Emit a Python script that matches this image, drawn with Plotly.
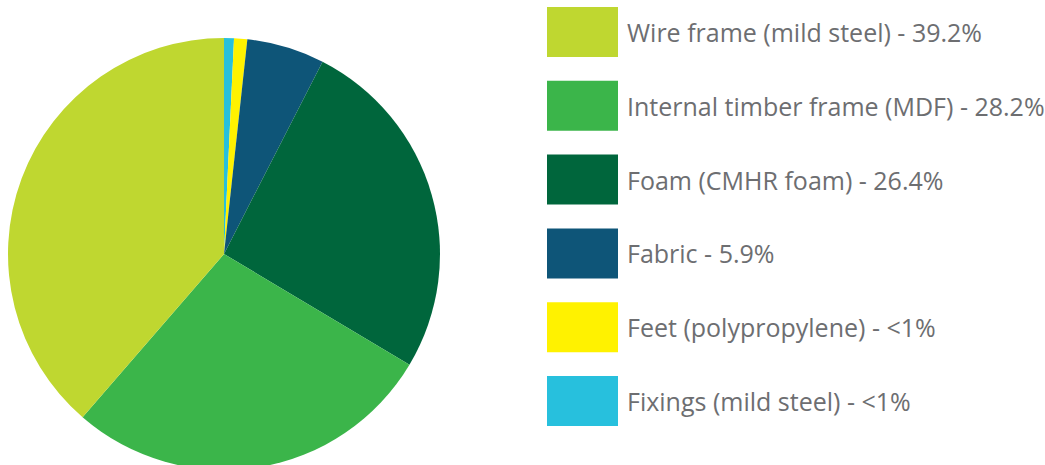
import plotly.graph_objects as go

labels = [
    "Wire frame (mild steel)",
    "Internal timber frame (MDF)",
    "Foam (CMHR foam)",
    "Fabric",
    "Feet (polypropylene)",
    "Fixings (mild steel)",
]
values = [39.2, 28.2, 26.4, 5.9, 1.0, 0.75]
legend_pct = ["39.2%", "28.2%", "26.4%", "5.9%", "<1%", "<1%"]
colors = ["#bfd730", "#3bb54a", "#00663c", "#0e5578", "#fff200", "#27c0dd"]

W, H = 1045, 470

fig = go.Figure(
    go.Pie(
        labels=labels[::-1],
        values=values[::-1],
        sort=False,
        direction="clockwise",
        rotation=0,
        marker=dict(colors=colors[::-1], line=dict(width=0)),
        textinfo="none",
        hoverinfo="label+percent",
        domain=dict(x=[8 / W, 440 / W], y=[0, 1 - 38 / H]),
        showlegend=False,
    )
)

shapes = []
annotations = []
sw_x0, sw_x1 = 547, 618
row0, row_step, sw_h = 7, 73.8, 50
for i, (lab, pct, col) in enumerate(zip(labels, legend_pct, colors)):
    y0 = row0 + i * row_step
    y1 = y0 + sw_h
    shapes.append(dict(
        type="rect", xref="paper", yref="paper",
        x0=sw_x0 / W, x1=sw_x1 / W, y0=1 - y1 / H, y1=1 - y0 / H,
        fillcolor=col, line=dict(width=0), layer="above",
    ))
    annotations.append(dict(
        xref="paper", yref="paper", x=625 / W, y=1 - (y0 + sw_h / 2) / H,
        xanchor="left", yanchor="middle", showarrow=False,
        text=f"{lab} - {pct}",
        font=dict(family="Open Sans", size=25, color="#6d6e71"),
    ))

fig.update_layout(
    width=W, height=H,
    margin=dict(l=0, r=0, t=0, b=0),
    paper_bgcolor="white",
    plot_bgcolor="white",
    shapes=shapes,
    annotations=annotations,
)

fig.write_html(
    "out.html",
    config={"displayModeBar": False},
    post_script="document.body.style.margin='0';document.body.style.overflow='hidden';"
                "document.documentElement.style.overflow='hidden';",
)
